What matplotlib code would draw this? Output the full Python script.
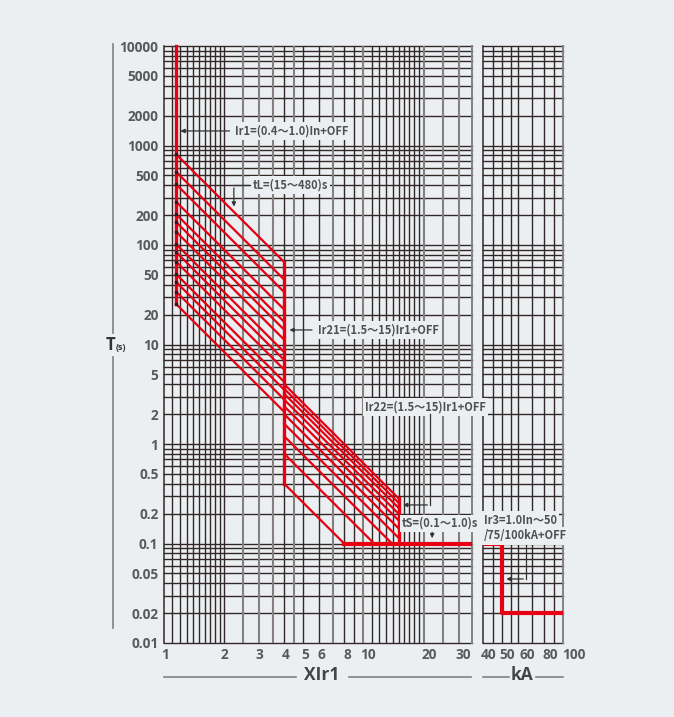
import numpy as np
import matplotlib
matplotlib.use('Agg')
import matplotlib.pyplot as plt
import matplotlib.transforms as mtransforms
from matplotlib.lines import Line2D
from matplotlib.ticker import NullLocator

plt.rcParams['font.family'] = ['Open Sans', 'DejaVu Sans']
plt.rcParams['font.weight'] = 'bold'

# ---- data ----
# long delay: start at Ir1 (1.15 x), end on the Ir21 vertical (4 x)
ir1_x = 1.15
ir21_x = 4.0
ir22_x = 15.0
ld_start_T = [25.5, 34, 42.5, 51, 68, 85, 102, 136, 170, 204, 272, 408, 544, 817]
ld_end_T = [2.11, 2.81, 3.52, 4.22, 5.6, 7.0, 8.4, 11.2, 14.1, 16.9, 22.5, 33.7, 45, 67.5]
# short delay: start on the 4 x vertical, end on 15 x vertical or on 0.1 s floor
sd_start_T = [0.4, 0.8, 1.2, 1.6, 2.0, 2.4, 2.8, 3.2, 3.6, 4.0]
sd_end_x = [8.0, 11.3, 13.9, 15, 15, 15, 15, 15, 15, 15]
sd_end_T = [0.1, 0.1, 0.1, 0.114, 0.142, 0.171, 0.199, 0.228, 0.256, 0.284]
ts_floor = 0.1
# instantaneous (kA panel)
inst_x = [40, 50, 50, 100]
inst_T = [0.1, 0.1, 0.02, 0.02]

y_ticks = [10000, 5000, 2000, 1000, 500, 200, 100, 50, 20, 10, 5, 2, 1,
           0.5, 0.2, 0.1, 0.05, 0.02, 0.01]
y_tick_labels = ['10000', '5000', '2000', '1000', '500', '200', '100', '50', '20', '10',
                 '5', '2', '1', '0.5', '0.2', '0.1', '0.05', '0.02', '0.01']
x1_ticks = [1, 2, 3, 4, 5, 6, 8, 10, 20, 30]
x2_ticks = [40, 50, 60, 80, 100]
# the printed labels sit a little right of their grid lines (pixels)
x1_label_shift = [1, 0, 0, 2, 2, 2, 3, 5, 6, 5]
x2_label_shift = [6, 5, 9, 7, 11]

grid_x1 = [1.1, 1.2, 1.3, 1.4, 1.5, 1.6, 1.7, 1.8, 1.9, 2, 2.5, 3, 3.5, 4, 4.5, 5, 6, 7, 8, 9,
           10, 11, 12, 13, 14, 15, 16, 17, 18, 19, 20, 25, 30]
grey_x1 = [2.5, 3, 3.5, 4.5, 7, 10, 20, 25, 30]
grid_x2 = [45, 50, 55, 60, 70, 80, 90]
grid_y = [k * 10.0 ** n for n in range(-2, 4) for k in range(1, 10)] + [10000]

bg = '#eceff2'
red = '#e60012'
dark = '#332828'
grey = '#858080'
W, H = 674, 717

fig = plt.figure(figsize=(6.74, 7.17), dpi=100)
fig.patch.set_facecolor(bg)
ax1 = fig.add_axes([164 / W, 1 - 643 / H, 308 / W, 597 / H])
ax2 = fig.add_axes([483 / W, 1 - 643 / H, 80 / W, 597 / H])
ax1.set_zorder(2)  # so the Ir22 label can run over the gap

for ax, xl in ((ax1, (1, 35)), (ax2, (40, 100))):
    ax.set_xscale('log')
    ax.set_yscale('log')
    ax.set_xlim(*xl)
    ax.set_ylim(0.01, 10000)
    ax.set_facecolor(bg)
    for s in ax.spines.values():
        s.set_visible(False)
    ax.xaxis.set_minor_locator(NullLocator())
    ax.yaxis.set_minor_locator(NullLocator())
    ax.set_xticks([])
    ax.tick_params(length=0, labelsize=9.8, labelcolor='#595959', pad=4)
    for v in grid_y:
        ax.axhline(v, color=dark, lw=1.0, zorder=1, clip_on=False)
    ax.axvline(xl[0], color=dark, lw=1.1, zorder=1, clip_on=False)
    ax.axvline(xl[1], color=grey, lw=1.4, zorder=1, clip_on=False)

for v in grid_x1:
    if v in grey_x1:
        ax1.axvline(v, color=grey, lw=1.5, zorder=1)
    else:
        ax1.axvline(v, color=dark, lw=1.0, zorder=1)
for v in grid_x2:
    ax2.axvline(v, color=dark, lw=1.0, zorder=1)

ax1.set_yticks(y_ticks)
ax1.set_yticklabels(y_tick_labels, fontweight='bold')
ax2.set_yticks([])

for ax, ticks, shifts in ((ax1, x1_ticks, x1_label_shift), (ax2, x2_ticks, x2_label_shift)):
    base = mtransforms.blended_transform_factory(ax.transData, ax.transAxes)
    for v, dx in zip(ticks, shifts):
        tr = base + mtransforms.ScaledTranslation(dx / 100, -5 / 100, fig.dpi_scale_trans)
        ax.text(v, 0, str(v), transform=tr, ha='center', va='top', fontsize=9.8,
                fontweight='bold', color='#595959', clip_on=False)

# ---- red trip curves ----
ax1.plot([ir1_x, ir1_x], [10000, ld_start_T[0]], color=red, lw=2.4, zorder=3, clip_on=False)
for t0, t1 in zip(ld_start_T, ld_end_T):
    ax1.plot([ir1_x, ir21_x], [t0, t1], color=red, lw=1.6, zorder=3)
ax1.plot([ir1_x] * len(ld_start_T), ld_start_T, 's', color='#222222', ms=1.8, zorder=4)
ax1.plot([ir21_x, ir21_x], [ld_end_T[-1], sd_start_T[0]], color=red, lw=2.4, zorder=3)
for t0, xe, te in zip(sd_start_T, sd_end_x, sd_end_T):
    ax1.plot([ir21_x, xe], [t0, te], color=red, lw=1.6, zorder=3)
ax1.plot([ir22_x, ir22_x], [sd_end_T[-1], ts_floor], color=red, lw=2.4, zorder=3)
ax1.plot([sd_end_x[0], 35], [ts_floor, ts_floor], color=red, lw=3.0, zorder=3)
ax2.plot(inst_x, inst_T, color=red, lw=3.0, zorder=3)

# ---- annotations ----
cjk = ['Noto Sans CJK SC', 'DejaVu Sans']
tcol = '#505050'
box = dict(facecolor=bg, edgecolor='none', pad=1.5)
akw = dict(arrowstyle='-|>', color='#333333', lw=0.9, mutation_scale=6)


def label(ax, x, y, s):
    ax.text(x, y, s, family=cjk, fontsize=8.0, fontweight='heavy', color=tcol,
            ha='left', va='center', bbox=box, zorder=5, clip_on=False)


label(ax1, 2.28, 1400, 'Ir1=(0.4～1.0)In+OFF')
ax1.annotate('', xy=(1.17, 1400), xytext=(2.2, 1400), arrowprops=akw, zorder=5)

label(ax1, 2.78, 400, 'tL=(15～480)s')
ax1.plot([2.7, 2.24], [400, 400], color='#333333', lw=0.9, zorder=5)
ax1.annotate('', xy=(2.24, 228), xytext=(2.24, 400), arrowprops=akw, zorder=5)

label(ax1, 5.95, 14, 'Ir21=(1.5～15)Ir1+OFF')
ax1.annotate('', xy=(4.12, 14), xytext=(5.7, 14), arrowprops=akw, zorder=5)

label(ax1, 10.2, 2.35, 'Ir22=(1.5～15)Ir1+OFF')
ax1.plot([21.6, 21.6], [2.0, 0.244], color='#333333', lw=0.9, zorder=5)
ax1.annotate('', xy=(15.3, 0.244), xytext=(21.6, 0.244), arrowprops=akw, zorder=5)

label(ax1, 15.6, 0.16, 'tS=(0.1～1.0)s')
ax1.annotate('', xy=(22.1, 0.106), xytext=(22.1, 0.138), arrowprops=akw, zorder=5)

label(ax2, 40.6, 0.172, 'Ir3=1.0In～50')
label(ax2, 40.6, 0.119, '/75/100kA+OFF')
ax2.plot([65.5, 65.5], [0.097, 0.044], color='#333333', lw=0.9, zorder=5)
ax2.annotate('', xy=(50.6, 0.044), xytext=(65.5, 0.044), arrowprops=akw, zorder=5)

# ---- axis titles ----
fig.text(110 / W, 1 - 345 / H, 'T', fontsize=12, fontweight='bold', color='#333333',
         ha='center', va='center')
fig.text(121 / W, 1 - 348 / H, '(s)', fontsize=6.5, fontweight='bold', color='#333333',
         ha='center', va='center')
for y0, y1 in ((44, 333), (357, 628)):
    fig.add_artist(Line2D([113 / W, 113 / W], [1 - y0 / H, 1 - y1 / H], color=grey, lw=1.2))

fig.text(322 / W, 1 - 675 / H, 'XIr1', fontsize=12.5, fontweight='bold', color='#444444',
         ha='center', va='center')
fig.text(522 / W, 1 - 675 / H, 'kA', fontsize=12.5, fontweight='bold', color='#444444',
         ha='center', va='center')
for x0, x1 in ((164, 296), (349, 471), (483, 509), (536, 563)):
    fig.add_artist(Line2D([x0 / W, x1 / W], [1 - 677 / H, 1 - 677 / H], color=grey, lw=1.2))

fig.savefig('out.png', dpi=100, facecolor=bg)
